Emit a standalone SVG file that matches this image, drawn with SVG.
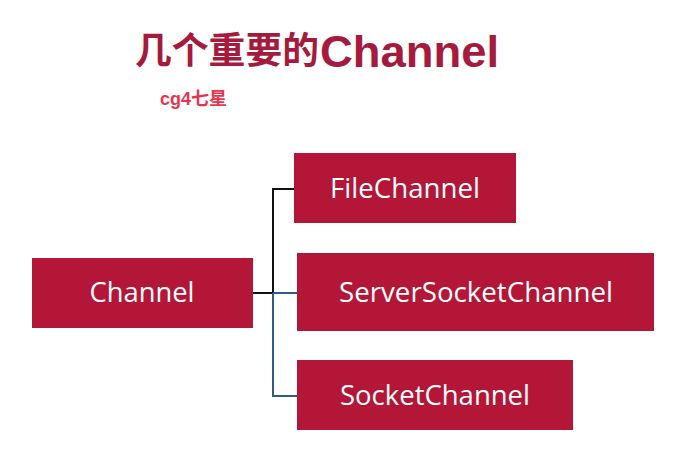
<svg xmlns="http://www.w3.org/2000/svg" width="692" height="459" viewBox="0 0 692 459">
<style>
.box{fill:#b31636;}
.lbl{font-family:"Open Sans","Noto Sans",sans-serif;font-size:27px;fill:#ffffff;}
.title{font-family:"Liberation Sans","Noto Sans CJK SC",sans-serif;font-weight:bold;font-size:37px;fill:#a51a3d;}
.sub{font-family:"Liberation Sans","Noto Sans CJK SC",sans-serif;font-weight:bold;font-size:18px;fill:#e5364e;}
</style>
<rect width="692" height="459" fill="#ffffff"/>
<text class="title" x="135" y="64"><tspan textLength="184" lengthAdjust="spacingAndGlyphs">几个重要的</tspan><tspan y="67" font-size="44" textLength="179" lengthAdjust="spacingAndGlyphs">Channel</tspan></text>
<text class="sub" x="160" y="105">cg4七星</text>
<g id="connectors" fill="none" stroke-width="2">
<path d="M253 293 H273 M273 293 V189 H294" stroke="#111111"/>
<path d="M273 293 H297 M273 293 V396 H297" stroke="#2f5a8a"/>
</g>
<g id="channel">
<rect class="box" x="32" y="258" width="221" height="70"/>
<text class="lbl" x="142" y="302" text-anchor="middle" textLength="105" lengthAdjust="spacingAndGlyphs">Channel</text>
</g>
<g id="filechannel">
<rect class="box" x="294" y="153" width="222" height="70"/>
<text class="lbl" x="405" y="198" text-anchor="middle" textLength="150" lengthAdjust="spacingAndGlyphs">FileChannel</text>
</g>
<g id="serversocketchannel">
<rect class="box" x="297" y="253" width="357" height="78"/>
<text class="lbl" x="476" y="302" text-anchor="middle" textLength="274" lengthAdjust="spacingAndGlyphs">ServerSocketChannel</text>
</g>
<g id="socketchannel">
<rect class="box" x="297" y="360" width="276" height="70"/>
<text class="lbl" x="435" y="405" text-anchor="middle" textLength="190" lengthAdjust="spacingAndGlyphs">SocketChannel</text>
</g>
</svg>
